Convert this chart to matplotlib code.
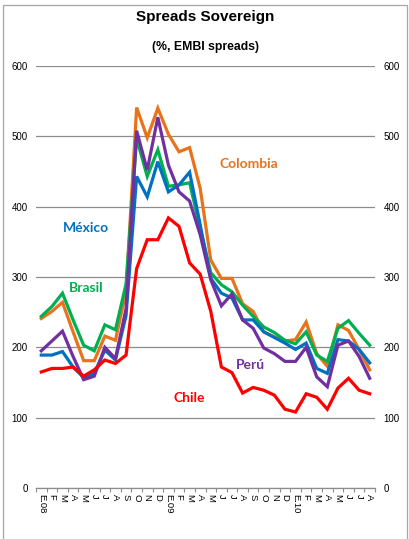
import matplotlib
matplotlib.use("Agg")
import matplotlib.pyplot as plt
from matplotlib.patches import Rectangle
from matplotlib.ticker import FixedLocator, NullFormatter

# Monthly EMBI spreads, Jan 2008 - Aug 2010
months = ['E.08', 'F', 'M', 'A', 'M', 'J', 'J', 'A', 'S', 'O', 'N', 'D',
          'E.09', 'F', 'M', 'A', 'M', 'J', 'J', 'A', 'S', 'O', 'N', 'D',
          'E.10', 'F', 'M', 'A', 'M', 'J', 'J', 'A']

chile = [165, 170, 170, 172, 159, 168, 182, 177, 189, 312, 353, 353, 384, 372, 320, 304,
         251, 172, 164, 135, 143, 139, 132, 112, 108, 134, 129, 112, 142, 156, 139, 134]
colombia = [241, 251, 264, 222, 181, 181, 216, 210, 280, 541, 498, 540, 503, 478, 484, 426,
            324, 298, 298, 262, 251, 222, 215, 209, 211, 236, 191, 173, 232, 224, 197, 168]
brasil = [244, 258, 277, 239, 203, 195, 232, 225, 290, 497, 443, 481, 429, 431, 434, 369,
          306, 289, 279, 260, 244, 229, 221, 210, 205, 222, 189, 180, 227, 238, 220, 203]
mexico = [189, 189, 194, 172, 157, 163, 196, 182, 245, 443, 414, 464, 421, 431, 449, 374,
          298, 277, 270, 239, 239, 222, 214, 206, 197, 206, 170, 163, 211, 209, 197, 178]
peru = [195, 209, 223, 187, 154, 159, 200, 184, 255, 508, 452, 527, 459, 421, 408, 360,
        296, 259, 276, 239, 227, 199, 191, 180, 180, 200, 158, 144, 203, 209, 187, 156]

series = [
    ("Colombia", colombia, "#E8731A", (19.6, 460)),
    ("Brasil", brasil, "#00B050", (4.2, 285)),
    ("México", mexico, "#0070C0", (4.2, 370)),
    ("Perú", peru, "#7030A0", (19.7, 175)),
    ("Chile", chile, "#FF0000", (14.0, 128)),
]

W, H = 409, 539
fig = plt.figure(figsize=(W / 100, H / 100), dpi=100)
fig.patch.set_facecolor("white")

# outer frame
fig.add_artist(Rectangle((3 / W, -0.05), 404 / W, 1.05 - 5 / H,
                         transform=fig.transFigure, fill=False,
                         edgecolor="#A6A6A6", linewidth=0.9))

ax = fig.add_axes([36 / W, 1 - 488 / H, (375 - 36) / W, (488 - 66) / H])
x = list(range(len(months)))

for name, vals, color, (tx, ty) in series:
    ax.plot(x, vals, color=color, linewidth=2.3, solid_joinstyle="miter", zorder=3)
    ax.text(tx, ty, name, color=color, fontsize=10, fontweight="bold",
            family="Lato", ha="center", va="center", zorder=4)

ax.set_xlim(-0.5, len(months) - 0.5)
ax.set_ylim(0, 600)
ax.set_yticks(range(0, 601, 100))
ax.yaxis.grid(True, color="#8C8C8C", linewidth=0.9)
ax.set_axisbelow(True)
for s in ["left", "right", "top"]:
    ax.spines[s].set_visible(False)
ax.spines["bottom"].set_color("#8C8C8C")
ax.spines["bottom"].set_linewidth(0.9)

ax.tick_params(axis="y", length=0, labelsize=7, pad=6, labelcolor="black",
               labelleft=True, labelright=True, left=False, right=False)
for lab in ax.get_yticklabels(which="both"):
    lab.set_family("Liberation Sans")
for t in ax.yaxis.get_major_ticks():
    t.label1.set_family("Liberation Sans")
    t.label2.set_family("Liberation Sans")

# category labels at centres, tick marks on category boundaries
ax.set_xticks(x)
ax.set_xticklabels(months, rotation=270, fontsize=6.8, family="Liberation Sans")
ax.tick_params(axis="x", which="major", length=0, pad=4)
ax.xaxis.set_minor_locator(FixedLocator([i - 0.5 for i in range(len(months) + 1)]))
ax.xaxis.set_minor_formatter(NullFormatter())
ax.tick_params(axis="x", which="minor", length=3, color="#8C8C8C", width=0.8,
               direction="out")
for lab in ax.get_xticklabels():
    lab.set_va("top")

fig.text(205 / W, 1 - 17 / H, "Spreads Sovereign", ha="center", va="center",
         fontsize=11, fontweight="bold", family="Liberation Sans")
fig.text(205 / W, 1 - 47 / H, "(%, EMBI spreads)", ha="center", va="center",
         fontsize=8.8, fontweight="bold", family="Liberation Sans")

fig.savefig("out.png", dpi=100)
